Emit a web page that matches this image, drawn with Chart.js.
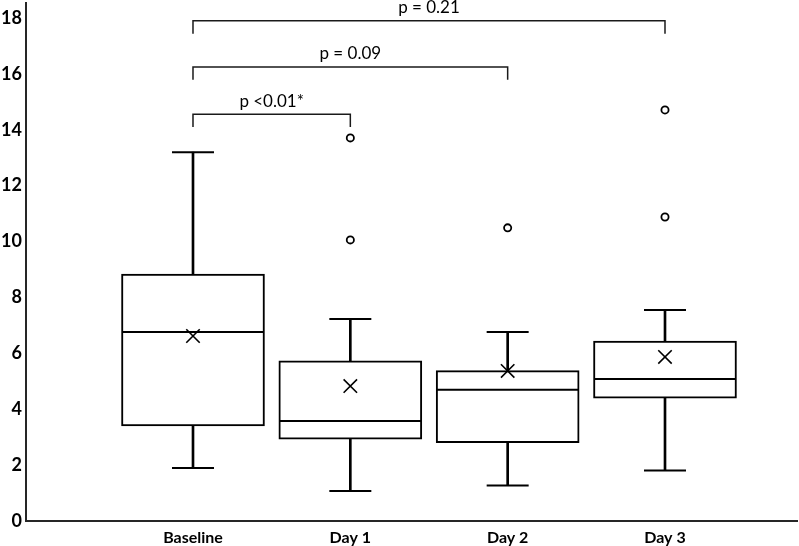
<!DOCTYPE html>
<html>
<head>
<meta charset="utf-8">
<script src="https://cdn.jsdelivr.net/npm/chart.js@4/dist/chart.umd.min.js"></script>
<style>
  html, body { margin: 0; padding: 0; background: #fff; }
  #wrap { width: 799px; height: 546px; }
</style>
</head>
<body>
<div id="wrap"><canvas id="boxChart" width="799" height="546"></canvas></div>
<script>
// Dados
const groups = ['Baseline', 'Day 1', 'Day 2', 'Day 3'];
const whiskerLow = [1.90, 1.07, 1.27, 1.81];
const q1 = [3.40, 2.93, 2.80, 4.40];
const median = [6.76, 3.58, 4.70, 5.08];
const q3 = [8.84, 5.73, 5.38, 6.44];
const whiskerHigh = [13.20, 7.23, 6.76, 7.55];
const means = [6.62, 4.83, 5.37, 5.87];
const outliers = [[], [10.06, 13.71], [10.49], [10.88, 14.71]];
const yTicks = [0, 2, 4, 6, 8, 10, 12, 14, 16, 18];

// Comparações (grupo A, grupo B, altura do colchete, texto)
const compareFrom = [0, 0, 0];
const compareTo = [1, 2, 3];
const bracketLevels = [14.56, 16.25, 17.90];
const pLabels = ['p <0.01*', 'p = 0.09', 'p = 0.21'];

const black = '#000000';
const axisColor = '#262626';
const pos = i => i + 1;

const datasets = [];

// whiskers (barras finas)
datasets.push({
    type: 'bar',
    data: groups.map((g, i) => ({ x: pos(i), y: [q3[i], whiskerHigh[i]] })),
    backgroundColor: black, borderWidth: 0, barThickness: 2, grouped: false, order: 5
});
datasets.push({
    type: 'bar',
    data: groups.map((g, i) => ({ x: pos(i), y: [whiskerLow[i], q1[i]] })),
    backgroundColor: black, borderWidth: 0, barThickness: 2, grouped: false, order: 5
});

// caixas
datasets.push({
    type: 'bar',
    data: groups.map((g, i) => ({ x: pos(i), y: [q1[i], q3[i]] })),
    backgroundColor: '#ffffff', borderColor: black, borderWidth: 2,
    borderSkipped: false, barThickness: 143, grouped: false, order: 4
});

// mediana
datasets.push({
    type: 'line', showLine: false,
    data: groups.map((g, i) => ({ x: pos(i), y: median[i] })),
    pointStyle: 'line', pointRadius: 71, borderColor: black, borderWidth: 2, order: 3
});

// tampas dos whiskers
datasets.push({
    type: 'line', showLine: false,
    data: groups.flatMap((g, i) => [{ x: pos(i), y: whiskerLow[i] }, { x: pos(i), y: whiskerHigh[i] }]),
    pointStyle: 'line', pointRadius: 21, borderColor: black, borderWidth: 2, order: 3
});

// média (X)
datasets.push({
    type: 'line', showLine: false,
    data: groups.map((g, i) => ({ x: pos(i), y: means[i] })),
    pointStyle: 'crossRot', pointRadius: 9.5, borderColor: black, borderWidth: 1.6, order: 2
});

// outliers
datasets.push({
    type: 'line', showLine: false,
    data: groups.flatMap((g, i) => outliers[i].map(v => ({ x: pos(i), y: v }))),
    pointStyle: 'circle', pointRadius: 3.6, borderColor: black, borderWidth: 1.8,
    backgroundColor: '#ffffff', order: 2
});

// colchetes das comparações
const drop = 0.46;
compareFrom.forEach((a, k) => {
    const b = compareTo[k];
    const lv = bracketLevels[k];
    datasets.push({
        type: 'line',
        data: [
            { x: pos(a), y: lv - drop }, { x: pos(a), y: lv },
            { x: pos(b), y: lv }, { x: pos(b), y: lv - drop }
        ],
        borderColor: '#1a1a1a', borderWidth: 1.5, pointRadius: 0, tension: 0, fill: false, order: 1
    });
});

// texto dos p-valores
const pLabelPlugin = {
    id: 'pLabels',
    afterDatasetsDraw(chart) {
        const { ctx, scales } = chart;
        ctx.save();
        ctx.font = '17px Lato';
        ctx.fillStyle = black;
        ctx.textAlign = 'center';
        ctx.textBaseline = 'middle';
        compareFrom.forEach((a, k) => {
            const xa = scales.x.getPixelForValue(pos(a));
            const xb = scales.x.getPixelForValue(pos(compareTo[k]));
            const y = scales.y.getPixelForValue(bracketLevels[k]) - 13;
            ctx.fillText(pLabels[k], (xa + xb) / 2, y);
        });
        ctx.restore();
    }
};

new Chart(document.getElementById('boxChart'), {
    type: 'bar',
    data: { datasets: datasets },
    options: {
        responsive: false,
        animation: false,
        clip: false,
        layout: { autoPadding: false, padding: { top: 3, right: 2, left: 0, bottom: 0 } },
        plugins: { legend: { display: false }, tooltip: { enabled: false } },
        scales: {
            x: {
                type: 'linear',
                offset: false,
                min: -0.0614,
                max: 4.839,
                grid: { display: false, drawTicks: false },
                border: { display: true, color: axisColor, width: 2 },
                afterBuildTicks: scale => { scale.ticks = groups.map((g, i) => ({ value: pos(i) })); },
                afterFit: scale => {
                    scale.height = 25;
                    scale.paddingLeft = 0;
                    scale.paddingRight = 0;
                },
                ticks: {
                    padding: 7,
                    autoSkip: false,
                    maxRotation: 0,
                    color: black,
                    font: { family: 'Lato', size: 16, weight: 'bold' },
                    callback: v => groups[v - 1]
                }
            },
            y: {
                min: 0,
                max: 18.537,
                grid: { display: false, drawTicks: false },
                border: { display: true, color: axisColor, width: 2 },
                afterBuildTicks: scale => { scale.ticks = yTicks.map(v => ({ value: v })); },
                afterFit: scale => {
                    scale.width = 26;
                    scale.paddingTop = 0;
                    scale.paddingBottom = 0;
                },
                ticks: {
                    padding: 4,
                    color: black,
                    font: { family: 'Lato', size: 18, weight: 'bold' }
                }
            }
        }
    },
    plugins: [pLabelPlugin]
});
</script>
</body>
</html>
